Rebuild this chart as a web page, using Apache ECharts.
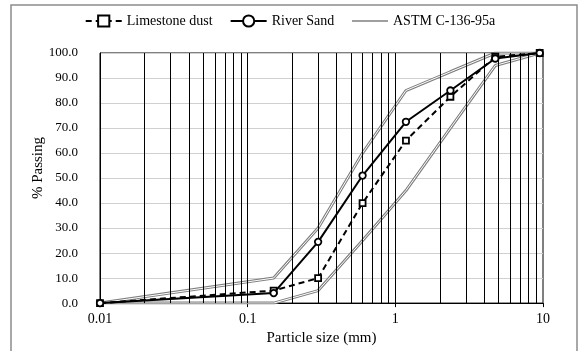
<!DOCTYPE html>
<html>
<head>
<meta charset="utf-8">
<script src="https://cdn.jsdelivr.net/npm/echarts@6/dist/echarts.min.js"></script>
<style>html,body{margin:0;padding:0;background:#fff;}#c{width:580px;height:351px;}</style>
</head>
<body>
<div id="c"></div>
<script>
var sizes = [0.01, 0.15, 0.3, 0.6, 1.18, 2.36, 4.75, 9.5];
var limestone = [0, 5, 10, 40, 65, 82.5, 98.5, 100];
var riverSand = [0, 4, 24.5, 51, 72.5, 85, 97.8, 100];
var astmUpper = [0, 10, 30, 60, 85, 92.5, 100, 100];
var astmLower = [0, 0, 5, 25, 45, 70, 95, 100];
var xTicks = [0.01, 0.1, 1, 10];

function pairs(vals) { return sizes.map(function (s, i) { return [s, vals[i]]; }); }

// minor log grid positions (2..9 within each decade)
var minorLines = [];
[0.01, 0.1, 1].forEach(function (d) {
  for (var k = 2; k <= 9; k++) minorLines.push({ xAxis: +(d * k).toPrecision(3) });
});
minorLines.push({ xAxis: 0.1 }, { xAxis: 1 });

var font = '"Liberation Serif", "Times New Roman", serif';
var chart = echarts.init(document.getElementById('c'));
chart.setOption({
  animation: false,
  textStyle: { fontFamily: font, color: '#000' },
  graphic: [{
    type: 'rect', z: -10, silent: true,
    shape: { x: 11, y: 5, width: 566, height: 360 },
    style: { fill: '#fff', stroke: '#8c8c8c', lineWidth: 1.5 }
  }],
  legend: {
    left: 'center', top: 9, itemWidth: 36, itemHeight: 14, itemGap: 17,
    textStyle: { fontFamily: font, fontSize: 14, color: '#000' },
    data: [
      { name: 'Limestone dust' },
      { name: 'River Sand' },
      { name: 'ASTM C-136-95a', itemStyle: { opacity: 0 }, lineStyle: { width: 1.5, color: '#7f7f7f' } }
    ]
  },
  grid: { left: 100, right: 37, top: 53, bottom: 47, show: true, borderColor: '#000', borderWidth: 1, backgroundColor: 'transparent' },
  xAxis: {
    type: 'log', logBase: 10, min: 0.01, max: 10,
    name: 'Particle size (mm)', nameLocation: 'middle', nameGap: 26,
    nameTextStyle: { fontFamily: font, fontSize: 15, color: '#000' },
    axisLine: { show: true, lineStyle: { color: '#000', width: 1 } },
    axisTick: { show: true, inside: false, length: 4, lineStyle: { color: '#000' } },
    axisLabel: { fontFamily: font, fontSize: 14, color: '#000', margin: 9,
      formatter: function (v) { var t = xTicks.filter(function (x) { return Math.abs(x - v) / x < 1e-6; }); return t.length ? String(t[0]) : ''; } },
    splitLine: { show: false }
  },
  yAxis: {
    type: 'value', min: 0, max: 100, interval: 10,
    name: '% Passing', nameLocation: 'middle', nameGap: 54, nameMoveOverlap: false,
    nameTextStyle: { fontFamily: font, fontSize: 15, color: '#000', padding: [0, 0, 0, 20] },
    axisLine: { show: true, lineStyle: { color: '#000', width: 1 } },
    axisTick: { show: false },
    axisLabel: { fontFamily: font, fontSize: 13, color: '#000', margin: 22,
      formatter: function (v) { return v.toFixed(1); } },
    splitLine: { show: true, lineStyle: { color: '#d0d0d0', width: 1 } }
  },
  series: [
    {
      name: 'ASTM C-136-95a', type: 'line', data: pairs(astmUpper), symbol: 'none', z: 2,
      lineStyle: { color: '#7f7f7f', width: 3 }, itemStyle: { color: '#7f7f7f' },
      markLine: { silent: true, symbol: 'none', label: { show: false }, animation: false,
        lineStyle: { color: '#000', width: 1, type: 'solid' }, data: minorLines }
    },
    {
      name: 'ASTM C-136-95a', type: 'line', data: pairs(astmLower), symbol: 'none', z: 2,
      lineStyle: { color: '#7f7f7f', width: 3 }, itemStyle: { color: '#7f7f7f' }
    },
    {
      name: 'astmUpperInner', type: 'line', data: pairs(astmUpper), symbol: 'none', z: 3,
      lineStyle: { color: '#ffffff', width: 1 }, itemStyle: { color: '#fff' }
    },
    {
      name: 'astmLowerInner', type: 'line', data: pairs(astmLower), symbol: 'none', z: 3,
      lineStyle: { color: '#ffffff', width: 1 }, itemStyle: { color: '#fff' }
    },
    {
      name: 'Limestone dust', type: 'line', data: pairs(limestone), z: 5,
      symbol: 'rect', symbolSize: 6, showSymbol: true,
      lineStyle: { color: '#000', width: 2, type: [6, 4] },
      itemStyle: { color: '#fff', borderColor: '#000', borderWidth: 1.8 }
    },
    {
      name: 'River Sand', type: 'line', data: pairs(riverSand), z: 6,
      symbol: 'circle', symbolSize: 6.5, showSymbol: true,
      lineStyle: { color: '#000', width: 2 },
      itemStyle: { color: '#fff', borderColor: '#000', borderWidth: 1.8 }
    }
  ]
});
</script>
</body>
</html>
